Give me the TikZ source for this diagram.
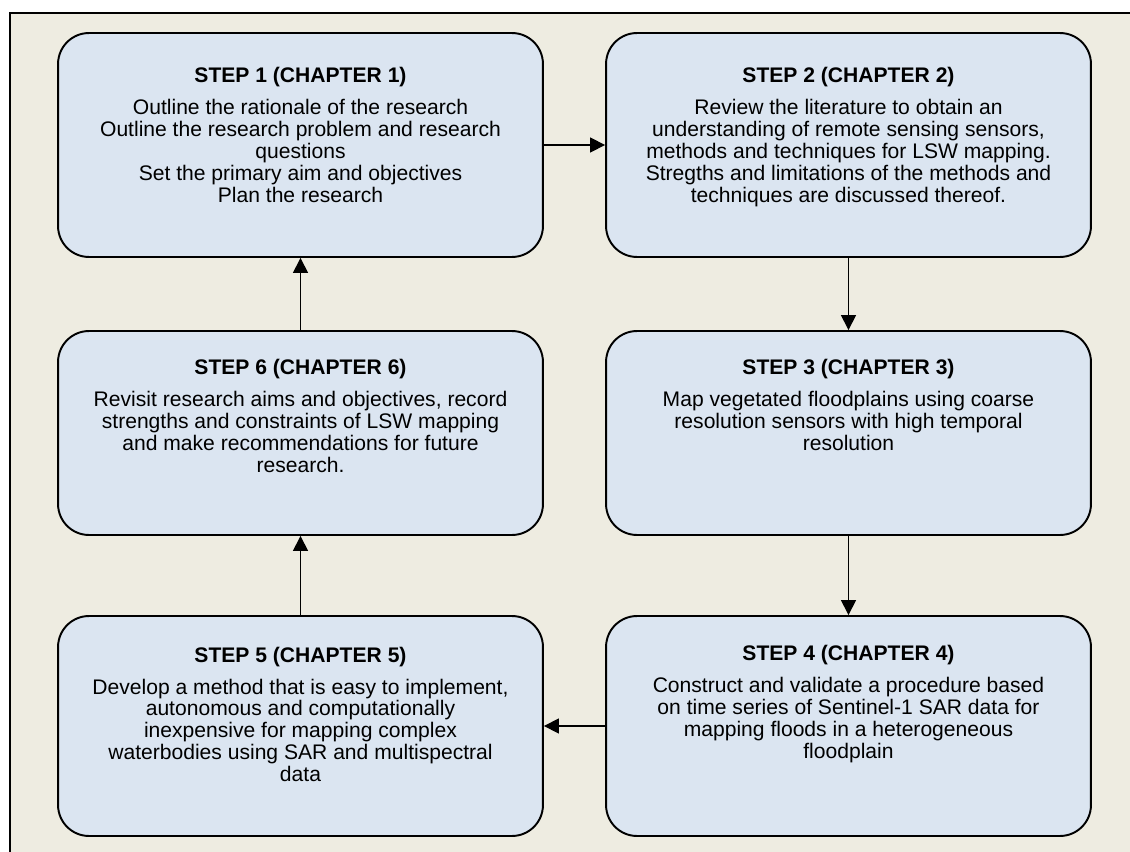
\documentclass[tikz,border=0pt]{standalone}
\usepackage{fontspec}
\setmainfont{Liberation Sans}
\usetikzlibrary{arrows.meta}
\definecolor{paper}{HTML}{EEECE1}
\definecolor{boxfill}{HTML}{DBE5F1}
% box text: height, top gap, title, body
\newcommand{\stepcontent}[4]{\parbox[c][#1][t]{9.4cm}{\centering\fontsize{12}{12.5}\selectfont
  \vspace*{#2}\textbf{#3}\par\vspace{5.7pt}#4\par}}

\begin{document}
\begin{tikzpicture}[x=0.02cm, y=-0.02cm,
    stepbox/.style={draw, fill=boxfill, line width=1.1pt, rounded corners=0.62cm,
      inner xsep=0.15cm, inner ysep=0pt},
    flow/.style={line width=0.85pt, -{Triangle[length=8.5pt,width=8.5pt]}}]
			%%%%% START %%%%%
			\useasboundingbox (0,0) rectangle (1130,852);
			\fill[paper] (10,13) rectangle (1130,852);
			\draw[line width=0.6pt] (10,852) -- (10,13) -- (1130,13);
			
			\node[stepbox] (s1) at (300.5,145) {\stepcontent{4.48cm}{19.6pt}{STEP 1 (CHAPTER 1)}{Outline the rationale of the research\\ Outline the research problem and research\\ questions\\ Set the primary aim and objectives\\ Plan the research}};
			\node[stepbox] (s2) at (848.5,145) {\stepcontent{4.48cm}{19.6pt}{STEP 2 (CHAPTER 2)}{Review the literature to obtain an\\ understanding of remote sensing sensors,\\ methods and techniques for LSW mapping.\\ Stregths and limitations of the methods and\\ techniques are discussed thereof.}};
			
			\node[stepbox] (s6) at (300.5,433) {\stepcontent{4.08cm}{16.3pt}{STEP 6 (CHAPTER 6)}{Revisit research aims and objectives, record\\ strengths and constraints of LSW mapping\\ and make recommendations for future\\ research.}};
			\node[stepbox] (s3) at (848.5,433) {\stepcontent{4.08cm}{16.3pt}{STEP 3 (CHAPTER 3)}{Map vegetated floodplains using coarse\\ resolution sensors with high temporal\\ resolution}};
			
			\node[stepbox] (s5) at (300.5,726) {\stepcontent{4.4cm}{17.5pt}{STEP 5 (CHAPTER 5)}{Develop a method that is easy to implement,\\ autonomous and computationally\\ inexpensive for mapping complex\\ waterbodies using SAR and multispectral\\ data}};
			\node[stepbox] (s4) at (848.5,726) {\stepcontent{4.4cm}{16.5pt}{STEP 4 (CHAPTER 4)}{Construct and validate a procedure based\\ on time series of Sentinel-1 SAR data for\\ mapping floods in a heterogeneous\\ floodplain}};
			
			\draw[flow] (s1) -- (s2);
			\draw[flow] (s2) -- (s3);
			\draw[flow] (s3) -- (s4);
			\draw[flow] (s4) -- (s5);
			\draw[flow] (s5) -- (s6);
			\draw[flow] (s6) -- (s1);
			%%%%% END %%%%%
\end{tikzpicture}
\end{document}
